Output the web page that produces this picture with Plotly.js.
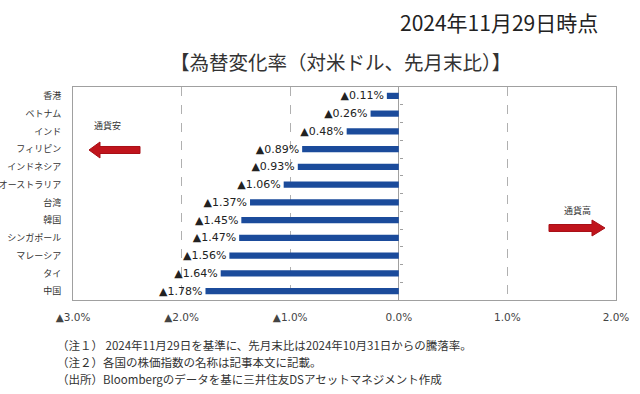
<!DOCTYPE html>
<html>
<head>
<meta charset="utf-8">
<script src="https://cdn.plot.ly/plotly-3.0.1.min.js"></script>
<style>html,body{margin:0;padding:0;background:#fff;}#chart{width:640px;height:394px;}</style>
</head>
<body>
<div id="chart"></div>
<script>
// ---- data ----
const categories = ['香港','ベトナム','インド','フィリピン','インドネシア','オーストラリア','台湾','韓国','シンガポール','マレーシア','タイ','中国'];
const changes = [-0.11,-0.26,-0.48,-0.89,-0.93,-1.06,-1.37,-1.45,-1.47,-1.56,-1.64,-1.78];
const tickValues = [-3,-2,-1,0,1,2];
const tickLabels = ['▲3.0%','▲2.0%','▲1.0%','0.0%','1.0%','2.0%'];
const barLabels = changes.map(v => (v < 0 ? '▲' : '') + Math.abs(v).toFixed(2) + '%');
const boundaryTicks = categories.slice(1).map((c, i) => i + 0.5);
const notes = [
  '（注１） 2024年11月29日を基準に、先月末比は2024年10月31日からの騰落率。',
  '（注２）各国の株価指数の名称は記事本文に記載。',
  '（出所）Bloombergのデータを基に三井住友DSアセットマネジメント作成'
];

// ---- layout helpers (pixel -> paper) ----
const M = {l:73, r:24, t:87, b:94};
const W = 640, H = 394;
const PW = W - M.l - M.r, PH = H - M.t - M.b;
const fx = px => (px - M.l) / PW;
const fy = py => (H - M.b - py) / PH;
function pathFrom(pts){ return 'M' + pts.map(p => fx(p[0]).toFixed(5) + ',' + fy(p[1]).toFixed(5)).join(' L') + ' Z'; }

const leftArrow = [[89,150],[100,142],[100,146.5],[140,146.5],[140,153.5],[100,153.5],[100,158]];
const rightArrow = [[605,228],[592,220],[592,224.5],[549,224.5],[549,231.5],[592,231.5],[592,236]];

const jp = '"Noto Sans CJK JP", "Noto Sans", sans-serif';

const traces = [{
  type: 'bar',
  orientation: 'h',
  x: changes,
  y: categories,
  width: 0.35,
  marker: {color: '#1B4B9B'},
  text: barLabels,
  textposition: 'outside',
  constraintext: 'none',
  cliponaxis: false,
  textfont: {family: '"DejaVu Sans", Verdana, sans-serif', size: 11, color: '#222'},
  hoverinfo: 'none'
},{
  type: 'scatter', x: [], y: [], xaxis: 'x', yaxis: 'y2', showlegend: false, hoverinfo: 'none'
}];

const noteAnns = notes.map((t, i) => ({
  xref: 'paper', yref: 'paper', x: fx(55), y: fy(345 + i * 17), xanchor: 'left', yanchor: 'middle',
  showarrow: false, text: t, font: {family: jp, size: 11.5, color: '#333'}
}));

const layout = {
  width: W, height: H,
  margin: {l: M.l, r: M.r, t: M.t, b: M.b, pad: 0},
  paper_bgcolor: '#fff', plot_bgcolor: '#fff',
  showlegend: false,
  xaxis: {
    range: [-3, 2], tickvals: tickValues, ticktext: tickLabels,
    showgrid: true, gridcolor: '#b0b0b0', griddash: 'dash', gridwidth: 1,
    zeroline: true, zerolinecolor: '#a0a0a0', zerolinewidth: 1,
    showline: true, mirror: true, linecolor: '#a0a0a0', linewidth: 1,
    ticks: '', ticklabelstandoff: 7,
    tickfont: {family: '"DejaVu Sans", Verdana, sans-serif', size: 10.5, color: '#444'},
    fixedrange: true
  },
  yaxis: {
    type: 'category', categoryarray: categories, categoryorder: 'array',
    autorange: 'reversed',
    showgrid: false, zeroline: false,
    showline: true, mirror: true, linecolor: '#a0a0a0', linewidth: 1,
    ticks: '', ticklabelstandoff: 9,
    tickfont: {family: jp, size: 9, color: '#333'},
    fixedrange: true
  },
  yaxis2: {
    overlaying: 'y', anchor: 'free', position: 0.6, side: 'right',
    range: [-0.5, categories.length - 0.5], tickvals: boundaryTicks,
    showticklabels: false, ticks: 'outside', ticklen: 3, tickcolor: '#a0a0a0',
    showgrid: false, zeroline: false, showline: false, fixedrange: true
  },
  shapes: [
    {type: 'path', xref: 'paper', yref: 'paper', path: pathFrom(leftArrow), fillcolor: '#C0141C', line: {color: '#A80F16', width: 1}},
    {type: 'path', xref: 'paper', yref: 'paper', path: pathFrom(rightArrow), fillcolor: '#C0141C', line: {color: '#A80F16', width: 1}}
  ],
  annotations: [
    {xref: 'paper', yref: 'paper', x: fx(499), y: fy(22), xanchor: 'center', yanchor: 'middle', showarrow: false,
     text: '2024年11月29日時点', font: {family: jp, size: 21, color: '#222'}},
    {xref: 'paper', yref: 'paper', x: fx(340), y: fy(61), xanchor: 'center', yanchor: 'middle', showarrow: false,
     text: '【為替変化率（対米ドル、先月末比）】', font: {family: jp, size: 19.5, color: '#333'}},
    {xref: 'paper', yref: 'paper', x: fx(107), y: fy(125), xanchor: 'center', yanchor: 'middle', showarrow: false,
     text: '通貨安', font: {family: jp, size: 9, color: '#333'}},
    {xref: 'paper', yref: 'paper', x: fx(577), y: fy(210), xanchor: 'center', yanchor: 'middle', showarrow: false,
     text: '通貨高', font: {family: jp, size: 9, color: '#333'}}
  ].concat(noteAnns)
};

Plotly.newPlot('chart', traces, layout, {staticPlot: true, displayModeBar: false});
</script>
</body>
</html>
